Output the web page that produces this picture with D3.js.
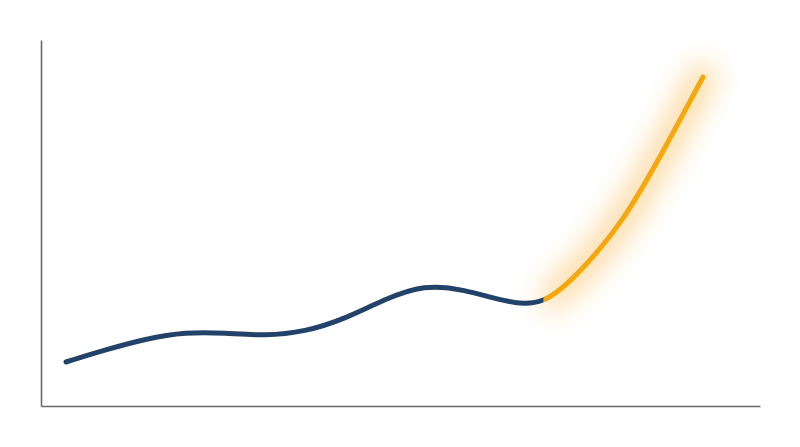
<!DOCTYPE html>
<html>
<head>
<meta charset="utf-8">
<script src="https://cdn.jsdelivr.net/npm/d3@7"></script>
<style>
  html, body { margin: 0; padding: 0; background: #fff; }
  #viz-container { width: 800px; height: 447px; }
</style>
</head>
<body>
<div id="viz-container"></div>
<script>
// Series points (x on a 0-100 axis, y on a 0-100 axis), smoothed with a basis spline
const seriesX = [3.48, 9.01, 14.55, 20.09, 25.62, 31.16, 36.70, 42.24, 47.77,
                 53.31, 58.85, 64.38, 69.92, 75.46, 81.00, 86.53, 92.07];
const seriesY = [12.02, 15.37, 18.36, 20.19, 19.95, 19.13, 20.27, 23.77, 29.18,
                 33.17, 31.86, 28.58, 26.99, 37.60, 50.41, 69.54, 89.89];
// where the highlighted (projected) part starts
const splitX = [69.92];

const width = 800, height = 447;
const margin = { top: 40, right: 40, bottom: 41, left: 41 };

const svg = d3.select("#viz-container").append("svg")
    .attr("width", width).attr("height", height);

const x = d3.scaleLinear().domain([0, 100]).range([margin.left, width - margin.right]);
const y = d3.scaleLinear().domain([0, 100]).range([height - margin.bottom, margin.top]);

const data = seriesX.map((d, i) => ({ x: d, y: seriesY[i] }));

const defs = svg.append("defs");
const glow = defs.append("filter").attr("id", "glow")
    .attr("filterUnits", "userSpaceOnUse")
    .attr("x", 0).attr("y", 0).attr("width", width).attr("height", height);
glow.append("feGaussianBlur").attr("stdDeviation", 14);

defs.append("clipPath").attr("id", "clip-past").append("rect")
    .attr("x", 0).attr("y", 0).attr("width", x(splitX[0])).attr("height", height);
defs.append("clipPath").attr("id", "clip-future").append("rect")
    .attr("x", x(splitX[0])).attr("y", 0).attr("width", width - x(splitX[0])).attr("height", height);

// axes, no ticks
const axisStyle = g => g.call(s => s.select(".domain").attr("stroke", "#6b6b6b").attr("stroke-width", 1.6))
    .selectAll(".tick").remove();
svg.append("g").attr("transform", `translate(${margin.left},0)`)
    .call(d3.axisLeft(y).ticks(0).tickSizeOuter(0)).call(axisStyle);
svg.append("g").attr("transform", `translate(0,${height - margin.bottom})`)
    .call(d3.axisBottom(x).ticks(0).tickSizeOuter(0)).call(axisStyle);

const line = d3.line().x(d => x(d.x)).y(d => y(d.y)).curve(d3.curveBasis);

// glow behind the orange part (blur applied after clipping, so it bleeds softly)
svg.append("g").attr("filter", "url(#glow)").attr("opacity", 0.45)
  .append("path").datum(data)
    .attr("clip-path", "url(#clip-future)")
    .attr("d", line)
    .attr("fill", "none").attr("stroke", "#f9a825").attr("stroke-width", 26)
    .attr("stroke-linecap", "round");

svg.append("path").datum(data)
    .attr("clip-path", "url(#clip-past)")
    .attr("d", line)
    .attr("fill", "none").attr("stroke", "#22426a").attr("stroke-width", 5)
    .attr("stroke-linecap", "round");

svg.append("path").datum(data)
    .attr("clip-path", "url(#clip-future)")
    .attr("d", line)
    .attr("fill", "none").attr("stroke", "#f5a70c").attr("stroke-width", 5)
    .attr("stroke-linecap", "round");
</script>
</body>
</html>
